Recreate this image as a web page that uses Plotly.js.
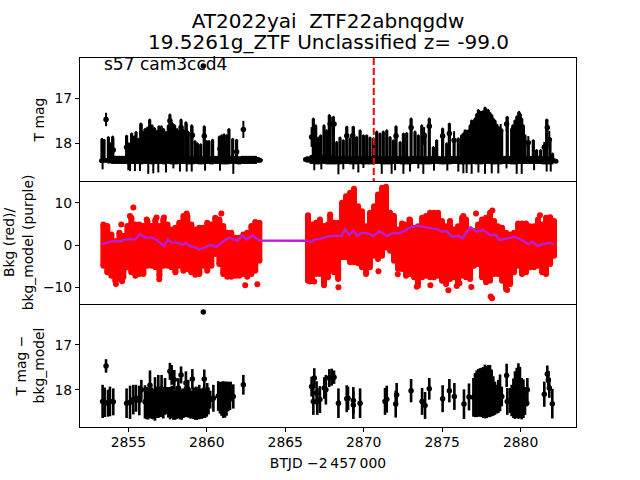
<!DOCTYPE html>
<html><head><meta charset="utf-8">
<script src="https://cdn.plot.ly/plotly-3.0.1.min.js"></script>
<style>html,body{margin:0;padding:0;background:#fff}</style></head>
<body><div id="chart" style="width:640px;height:480px"></div>
<script>
const titleLine1 = "AT2022yai\u00a0 ZTF22abnqgdw";
const titleLine2 = "19.5261g_ZTF Unclassified z= -99.0";
const sectorLabel = "s57 cam3ccd4";
const xLabel = "BTJD \u22122\u2009457\u2009000";
const triggerTime = 2870.64;

// Top panel: dense baseline of T mag points
const bandX = [2853.3,2853.55,2853.8,2854.05,2854.3,2854.55,2854.8,2855.05,2855.3,2855.55,2855.8,2856.05,2856.3,2856.55,2856.8,2857.05,2857.3,2857.55,2857.8,2858.05,2858.3,2858.55,2858.8,2859.05,2859.3,2859.55,2859.8,2860.05,2860.3,2860.55,2860.8,2861.05,2861.3,2861.55,2861.8,2862.05,2862.3,2862.55,2862.8,2863.05,2863.25,2863.4,
 2866.3,2866.45,2866.7,2866.95,2867.2,2867.45,2867.7,2867.95,2868.2,2868.45,2868.7,2868.95,2869.2,2869.45,2869.7,2869.95,2870.2,2870.45,2870.7,2870.95,2871.2,2871.45,2871.7,2871.95,2872.2,2872.45,2872.7,2872.95,2873.2,2873.45,2873.7,2873.95,2874.2,2874.45,2874.7,2874.95,2875.2,2875.45,2875.7,2875.95,2876.2,2876.45,2876.7,2876.95,2877.2,2877.45,2877.7,2877.95,2878.2,2878.45,2878.7,2878.95,2879.2,2879.45,2879.7,2879.95,2880.2,2880.45,2880.7,2880.95,2881.2,2881.45,2881.7,2881.95,2882.1,2882.25];
const bandY = [18.39,18.38,18.38,18.37,18.37,18.37,18.37,18.38,18.37,18.37,18.38,18.37,18.37,18.38,18.37,18.37,18.38,18.37,18.38,18.38,18.37,18.37,18.38,18.38,18.37,18.38,18.38,18.37,18.38,18.37,18.37,18.38,18.38,18.37,18.37,18.38,18.37,18.37,18.37,18.37,18.37,18.38,
 18.36,18.36,18.36,18.37,18.37,18.36,18.37,18.37,18.38,18.38,18.37,18.37,18.38,18.38,18.37,18.38,18.38,18.38,18.37,18.37,18.38,18.38,18.38,18.37,18.37,18.38,18.38,18.38,18.37,18.37,18.38,18.38,18.38,18.37,18.37,18.38,18.38,18.38,18.37,18.37,18.38,18.38,18.38,18.37,18.38,18.38,18.37,18.37,18.38,18.38,18.38,18.37,18.37,18.38,18.38,18.37,18.37,18.37,18.37,18.37,18.37,18.38,18.38,18.38,18.39,18.40];
const bandErr = [0.03,0.05,0.07,0.09,0.09,0.09,0.09,0.09,0.09,0.09,0.09,0.09,0.09,0.09,0.09,0.09,0.09,0.09,0.09,0.09,0.09,0.09,0.09,0.09,0.09,0.09,0.09,0.09,0.09,0.09,0.09,0.09,0.09,0.09,0.09,0.09,0.09,0.09,0.09,0.09,0.06,0.03,
 0.04,0.07,0.1,0.1,0.1,0.1,0.1,0.1,0.09,0.09,0.09,0.09,0.09,0.09,0.09,0.09,0.09,0.09,0.09,0.09,0.09,0.09,0.09,0.09,0.09,0.09,0.09,0.09,0.09,0.09,0.09,0.09,0.09,0.09,0.09,0.09,0.09,0.09,0.09,0.09,0.09,0.09,0.09,0.09,0.09,0.09,0.09,0.09,0.09,0.09,0.09,0.09,0.09,0.09,0.09,0.09,0.09,0.09,0.09,0.09,0.09,0.09,0.09,0.09,0.05,0.02];

// Top panel: upper ends of the error-bar columns, reaching down to the baseline
const riseX = [2853.32,2853.45,2853.73,2853.87,2854.0,2854.89,2855.04,2855.21,2855.36,2855.49,2855.64,2855.79,2855.91,2856.06,2856.21,2856.36,2856.51,2856.66,2856.81,2856.95,2857.1,2857.25,2857.4,2857.55,2857.65,2857.8,2857.95,2858.1,2858.25,2858.36,2858.5,2858.67,2858.82,2859.04,2859.25,2859.4,2859.61,2859.84,2860.0,2860.14,2860.37,2860.8,2860.95,2861.1,2861.27,2861.41,2861.65,2861.9,
 2866.79,2866.94,2867.11,2867.26,2867.47,2867.64,2867.81,
 2867.86,2868.07,2868.28,2868.49,2868.7,2868.92,2869.13,2869.34,2869.55,2869.77,2869.98,2870.19,2870.4,2870.62,2870.83,2871.04,2871.25,2871.47,2871.68,2871.89,2872.06,2872.32,2872.53,2872.74,2873.02,2873.27,2873.48,2873.7,2873.91,2874.18,2874.44,2874.65,2875.03,2875.29,2875.46,2875.76,2876.03,2876.24,2876.35,2876.46,2876.56,2876.67,2876.78,2876.88,2876.99,2877.09,2877.2,2877.31,2877.42,2877.52,2877.62,2877.73,2877.84,2877.94,2878.05,2878.16,2878.26,2878.37,2878.48,2878.58,2878.68,2878.79,2879.15,2879.43,2879.5,2879.64,2879.76,2879.9,2879.98,2880.07,2880.18,2880.28,2880.49,2880.81,2881.02,2881.28,2881.51,2881.66,2881.87,2882.04];
const riseMag = [17.9,17.92,17.86,18.0,17.85,17.83,18.0,17.78,17.85,17.75,17.9,17.56,17.75,17.68,17.65,17.47,17.6,17.66,17.72,17.62,17.62,17.68,17.75,17.6,17.36,17.55,17.6,17.68,17.72,17.47,17.7,17.53,17.75,17.6,17.95,18.0,18.02,17.62,17.95,17.95,17.92,17.85,17.82,17.8,17.82,17.68,17.9,17.92,
 17.45,17.6,17.87,17.82,17.6,17.71,17.37,
 17.41,17.41,17.97,17.87,17.93,17.63,17.89,17.63,17.86,17.71,17.82,17.82,17.87,17.89,17.74,17.78,17.74,17.71,17.86,17.93,17.62,17.97,17.78,17.77,17.45,17.74,17.82,17.6,17.78,17.45,18.08,17.93,17.67,18.0,17.56,17.89,17.89,17.82,17.78,17.71,17.72,17.71,17.6,17.49,17.5,17.45,17.35,17.26,17.3,17.3,17.28,17.2,17.25,17.26,17.32,17.37,17.45,17.49,17.58,17.63,17.7,17.71,17.41,17.67,17.6,17.49,17.4,17.3,17.35,17.45,17.6,17.82,17.97,17.93,18.15,18.15,18.04,17.47,17.89,18.23];
const riseBase = 18.37;

// Top panel: lower ends of the error bars that poke below the baseline
const dropX = [2853.36,2855.0,2855.11,2855.42,2855.74,2856.27,2856.59,2856.91,2857.4,2857.87,2858.29,2858.72,2859.04,2859.89,2860.84,2861.69,
 2866.85,2867.3,2868.39,2868.7,2869.34,2869.66,2869.98,2871.15,2871.78,2872.0,2872.53,2872.95,2873.48,2873.8,2874.48,2875.33,2876.03,2876.35,2876.56,2876.88,2877.31,2877.73,2878.16,2878.58,2879.1,2879.75,2880.07,2880.86,2881.66,2881.92];
const dropMag = [18.58,18.6,18.62,18.62,18.62,18.68,18.67,18.65,18.65,18.56,18.63,18.63,18.63,18.61,18.61,18.68,
 18.6,18.58,18.69,18.58,18.58,18.65,18.55,18.68,18.68,18.6,18.68,18.63,18.56,18.68,18.61,18.61,18.63,18.67,18.66,18.68,18.65,18.68,18.67,18.67,18.56,18.68,18.68,18.6,18.63,18.63];

// Top panel: individually visible points
const topDotX = [2853.58,2854.04,2854.89,2855.85,2857.65,2857.91,2858.36,2858.72,2859.08,2859.84,2859.78,2860.84,2861.9,2862.33,2866.68,2867.86,2868.11,2868.92,2869.3,2872.06,2873.02,2873.85,2874.18,2875.03,2875.46,2875.76,2877.73,2878.73,2879.11,2879.86,2880.49,2881.51,2881.7,2881.83];
const topDotMag = [17.47,18.15,18.09,17.78,17.5,17.72,17.65,17.77,17.82,17.84,16.28,18.12,18.19,17.69,17.86,17.57,17.57,17.83,17.83,17.84,17.65,17.84,17.62,17.84,17.78,17.93,17.37,17.72,17.57,17.45,17.99,18.09,17.65,17.92];
const topDotErr = [0.15,0.26,0.26,0.22,0.14,0.15,0.18,0.2,0.2,0.2,0,0.25,0.2,0.19,0.22,0.16,0.15,0.2,0.2,0.22,0.2,0.2,0.17,0.17,0.22,0.2,0.17,0.15,0.16,0.15,0.15,0.12,0.18,0.2];

// Middle panel: extent of the red background values
const bkgX = [2853.41,2853.66,2853.92,2854.17,2854.43,2854.68,2854.94,2855.19,2855.45,2855.7,2855.96,2856.21,2856.47,2856.72,2856.98,2857.23,2857.49,2857.74,2858.0,2858.25,2858.51,2858.76,2859.01,2859.27,2859.52,2859.78,2860.03,2860.29,2860.54,2860.8,2861.05,2861.31,2861.56,2861.82,2862.07,2862.33,2862.58,2862.84,2863.09,2863.35,
 2866.45,2866.7,2866.96,2867.21,2867.47,2867.72,
 2867.86,2868.11,2868.37,2868.62,2868.87,2869.13,2869.38,2869.64,2869.89,2870.15,2870.4,2870.66,2870.91,2871.17,2871.42,2871.68,2871.93,2872.19,2872.44,2872.7,2872.95,2873.21,2873.46,2873.72,2873.97,2874.23,2874.48,2874.74,2874.99,2875.25,2875.5,2875.76,2876.01,2876.27,2876.52,2876.78,2877.03,2877.29,2877.54,2877.8,2878.05,2878.31,2878.56,2878.82,2879.07,2879.33,2879.58,2879.84,2880.09,2880.35,2880.6,2880.86,2881.11,2881.37,2881.62,2881.88,2882.13];
const bkgHigh = [4.86,4.47,2.51,0.94,2.9,2.11,4.47,6.43,4.86,4.86,4.47,5.64,4.47,5.88,4.47,6.04,4.86,3.68,4.07,5.25,6.82,6.82,4.86,3.68,4.07,4.07,5.25,4.86,6.43,6.04,4.47,2.9,2.9,1.72,1.72,2.51,2.9,4.47,5.41,5.25,
 7.05,4.86,5.25,6.04,4.47,4.86,
 7.21,5.25,5.25,9.95,11.52,12.31,13.25,9.17,7.99,4.46,7.6,9.17,11.91,13.48,13.72,7.6,6.82,3.68,5.09,4.86,5.88,4.07,4.46,6.42,6.82,7.6,7.6,7.6,5.64,4.46,5.64,3.68,4.46,6.42,6.03,3.68,3.29,4.86,6.03,6.42,7.6,5.64,4.46,4.07,2.9,2.5,2.9,5.09,5.09,5.09,4.46,4.46,6.03,4.86,6.42,6.58,5.64];
const bkgLow = [-4.87,-6.44,-7.22,-8.4,-8.0,-7.61,-5.26,-6.44,-7.22,-6.83,-6.83,-4.87,-4.87,-5.26,-7.22,-4.87,-4.87,-5.26,-6.44,-4.87,-6.04,-5.65,-6.44,-6.99,-6.83,-4.87,-6.04,-4.87,-2.12,-4.47,-6.83,-7.45,-7.45,-7.22,-7.22,-6.83,-7.45,-6.83,-6.04,-3.69,
 -8.4,-8.4,-6.83,-6.83,-9.18,-7.6,
 -5.65,-6.43,-8.0,-2.9,-2.9,-4.08,-4.08,-4.31,-5.26,-6.83,-5.26,-2.51,-3.3,-2.51,-0.55,-1.34,-3.69,-5.65,-5.65,-7.22,-6.83,-7.61,-9.57,-7.61,-7.22,-7.61,-7.61,-7.22,-8.4,-9.18,-8.0,-7.61,-8.79,-7.22,-7.61,-8.0,-4.86,-4.47,-7.61,-8.79,-8.4,-6.83,-6.83,-8.4,-10.35,-9.18,-6.43,-4.86,-6.83,-6.43,-5.26,-5.26,-4.86,-6.43,-6.83,-4.47,-2.51];
// Middle panel: red points outside the main mass
const bkgOutX = [2855.32,2855.1,2854.55,2858.72,2860.93,2856.97,2854.21,2854.6,2862.45,2863.22,2856.17,2856.8,2857.27,2866.6,2866.85,2867.47,2868.39,2870.94,2872.17,2874.25,2875.4,2875.93,2876.1,2876.86,2878.09,2878.18,2879.15,2873.38,2872.91,2877.16,2878.2,2876.35,2881.23];
const bkgOutY = [8.86,6.82,4.86,7.45,7.45,-8.08,-9.18,-8.55,-9.5,-9.26,6.04,6.5,6.5,-8.6,-8.6,-9.5,-9.96,-6.2,-6.9,-9.49,-10.67,-9.65,-9.02,-9.89,-12.16,-12.55,-10.59,-9.81,6.04,7.45,8.15,6.82,7.05];

// Middle panel: purple background model
const modelX = [2853.3,2853.51,2853.73,2854.04,2854.47,2854.79,2855.11,2855.42,2855.74,2856.06,2856.49,2856.81,2857.02,2857.27,2857.51,2857.76,2858.19,2858.46,2858.67,2858.93,2859.25,2859.52,2859.89,2860.25,2860.59,2860.95,2861.16,2861.41,2861.69,2861.95,2862.26,2862.54,2862.92,2863.18,2863.39,2866.36,2866.62,2866.89,2867.21,2867.53,2867.85,2868.6,2868.81,2869.09,2869.34,2869.6,2869.87,2870.3,2870.62,2871.0,2871.47,2871.89,2872.21,2872.63,2872.95,2873.42,2874.02,2874.65,2874.97,2875.29,2875.61,2876.03,2876.31,2876.56,2876.82,2877.2,2877.63,2878.05,2878.41,2878.65,2879.11,2879.64,2880.07,2880.49,2880.77,2881.07,2881.45,2881.87,2882.13];
const modelY = [0.23,0.39,0.7,0.94,0.86,1.33,1.41,1.33,2.58,1.8,1.8,1.17,0.54,-0.24,1.33,0.62,0.54,0.07,0.54,-0.24,-0.55,-1.02,-0.55,0.07,-0.4,0.54,0.94,1.8,1.33,1.02,2.27,1.33,2.27,1.49,1.09,1.02,0.7,1.33,1.41,1.8,2.11,2.11,3.76,2.35,3.37,2.11,2.9,2.74,2.11,3.29,2.11,2.9,2.74,3.37,4.15,4.54,4.15,3.76,3.13,3.29,1.96,2.11,1.56,3.13,4.15,3.13,3.53,2.35,2.35,1.17,1.56,1.96,1.17,0.23,0.78,-0.24,0.23,0.54,0.23];

// Bottom panel: T mag minus background model
const diffX = [2853.36,2853.49,2853.58,2853.7,2853.83,2854.04,2854.89,2855.11,2855.32,2855.49,2855.7,2855.83,
 2856.06,2856.17,2856.27,2856.38,2856.49,2856.59,2856.7,2856.81,2856.91,2857.02,2857.13,2857.23,2857.34,2857.45,2857.55,2857.66,2857.77,2857.87,2857.98,2858.08,2858.19,2858.3,2858.4,2858.51,2858.62,2858.72,2858.83,2858.94,2859.04,2859.15,2859.26,2859.36,2859.47,2859.58,2859.68,2859.79,2859.9,2860.0,2860.11,2860.22,
 2856.38,2856.7,2856.91,2857.12,2857.34,2857.65,2857.76,2857.93,2858.19,2858.36,2858.67,2858.82,2859.08,2859.31,2859.52,2859.84,2860.03,
 2860.42,2860.73,2860.84,2860.94,2861.05,2861.16,2861.26,2861.37,2861.48,2861.52,2861.69,2862.33,2859.78,
 2866.68,2866.79,2866.85,2867.0,2867.04,2867.21,2867.49,2867.59,2867.81,2867.96,2868.11,2868.39,2868.92,2869.0,2869.34,2869.34,2869.77,2871.36,2871.47,2872.04,2872.1,2873.02,2873.72,2873.91,2874.18,2875.03,2875.46,2875.78,2876.39,2876.71,
 2876.99,2877.09,2877.2,2877.3,2877.41,2877.52,2877.62,2877.73,2877.84,2877.94,2878.05,2878.16,2878.26,2878.37,2878.48,2878.58,2878.69,2878.8,2879.11,2879.15,
 2879.32,2879.43,2879.54,2879.64,2879.75,2879.86,2879.96,2880.07,2880.18,2880.28,2880.39,2880.43,2881.51,2881.7,2881.77,2881.83,2882.02];
const diffMag = [18.26,18.28,17.47,18.3,18.26,18.27,18.3,18.28,18.22,18.19,18.24,18.0,
 18.27,18.3,18.31,18.26,18.3,18.32,18.33,18.28,18.3,18.27,18.25,18.29,18.26,18.24,18.28,18.3,18.27,18.33,18.34,18.3,18.28,18.31,18.33,18.3,18.27,18.26,18.28,18.31,18.33,18.3,18.32,18.33,18.3,18.32,18.31,18.29,18.3,18.27,18.25,18.22,
 17.9,18.05,18.0,18.0,18.07,17.59,17.67,17.78,17.96,17.67,17.85,18.0,17.76,18.15,18.11,17.76,18.07,
 18.19,18.14,18.18,18.2,18.22,18.22,18.2,18.15,18.15,18.04,18.15,17.89,16.27,
 17.93,18.26,17.74,18.07,18.26,18.22,17.96,18.0,17.74,17.72,17.72,18.3,18.2,18.19,18.24,18.34,18.3,18.26,18.21,18.32,18.11,18.02,18.26,18.35,17.98,18.2,18.02,18.15,18.32,18.16,
 18.17,18.12,18.09,18.07,18.06,18.06,18.06,18.04,18.05,18.03,18.03,18.07,18.14,18.19,18.21,18.15,18.07,18.15,17.68,18.26,
 18.24,18.24,18.19,18.12,18.07,18.03,18.06,18.2,18.2,18.25,18.3,18.0,18.1,17.65,17.78,17.96,18.31];
const diffErr = [0.37,0.33,0.15,0.3,0.33,0.3,0.33,0.37,0.33,0.3,0.33,0.22,
 0.37,0.36,0.35,0.37,0.35,0.34,0.36,0.35,0.33,0.34,0.36,0.35,0.3,0.3,0.34,0.36,0.36,0.34,0.33,0.35,0.36,0.35,0.34,0.33,0.34,0.35,0.34,0.33,0.31,0.35,0.35,0.34,0.36,0.33,0.34,0.34,0.33,0.33,0.3,0.2,
 0.33,0.33,0.33,0.33,0.33,0.19,0.22,0.22,0.22,0.19,0.26,0.22,0.22,0.22,0.22,0.21,0.22,
 0.3,0.33,0.35,0.38,0.41,0.4,0.38,0.33,0.3,0.22,0.27,0.22,0,
 0.22,0.3,0.22,0.26,0.3,0.3,0.24,0.33,0.2,0.19,0.15,0.33,0.3,0.26,0.3,0.31,0.33,0.3,0.3,0.3,0.26,0.26,0.3,0.3,0.24,0.3,0.26,0.3,0.33,0.3,
 0.43,0.49,0.52,0.53,0.54,0.55,0.57,0.6,0.58,0.58,0.58,0.52,0.44,0.37,0.32,0.37,0.41,0.22,0.26,0.3,
 0.28,0.35,0.44,0.53,0.56,0.62,0.57,0.46,0.43,0.31,0.07,0.26,0.28,0.19,0.2,0.22,0.33];

const black = "#000000", red = "#ff0000", purple = "#bb1dd0";
const minus = (a, b) => a.map(v => v - b);

const traces = [
  // top panel
  {x: bandX, y: bandY, xaxis:"x3", yaxis:"y3", mode:"markers", marker:{color:black,size:5},
   error_y:{type:"data",array:bandErr,color:black,thickness:4.5,width:0}},
  {x: riseX, y: riseMag, xaxis:"x3", yaxis:"y3", mode:"markers", marker:{color:black,size:2},
   error_y:{type:"data",symmetric:false,array:riseMag.map(v=>riseBase-v),arrayminus:riseMag.map(()=>0),color:black,thickness:3.2,width:0}},
  {x: dropX, y: dropX.map(()=>riseBase), xaxis:"x3", yaxis:"y3", mode:"markers", marker:{color:black,size:2},
   error_y:{type:"data",symmetric:false,array:minus(dropMag,riseBase),arrayminus:dropX.map(()=>0),color:black,thickness:2,width:0}},
  {x: topDotX, y: topDotMag, xaxis:"x3", yaxis:"y3", mode:"markers", marker:{color:black,size:5.5},
   error_y:{type:"data",array:topDotErr,color:black,thickness:2,width:0}},
  {x: [triggerTime,triggerTime], y:[16.1,18.84], xaxis:"x3", yaxis:"y3", mode:"lines",
   line:{color:red,width:2,dash:"7px,3px"}},
  // middle panel
  {x: bkgX, y: bkgHigh, xaxis:"x2", yaxis:"y2", mode:"markers", marker:{color:red,size:6},
   error_y:{type:"data",symmetric:false,array:bkgHigh.map(()=>0),arrayminus:bkgHigh.map((v,i)=>v-bkgLow[i]),color:red,thickness:6,width:0}},
  {x: bkgX, y: bkgLow, xaxis:"x2", yaxis:"y2", mode:"markers", marker:{color:red,size:6}},
  {x: bkgOutX, y: bkgOutY, xaxis:"x2", yaxis:"y2", mode:"markers", marker:{color:red,size:6}},
  {x: modelX, y: modelY, xaxis:"x2", yaxis:"y2", mode:"lines", line:{color:purple,width:2.5}},
  // bottom panel
  {x: diffX, y: diffMag, xaxis:"x", yaxis:"y", mode:"markers", marker:{color:black,size:5.5},
   error_y:{type:"data",array:diffErr,color:black,thickness:2.6,width:0}}
];

const xRange = [2851.92,2883.53];
const font = {family:"DejaVu Sans",size:13.9,color:"#000"};
const titleFont = {family:"DejaVu Sans",size:20,color:"#000"};
const xBase = {range:xRange,showgrid:false,zeroline:false,showline:true,mirror:false,linecolor:"#000",linewidth:1,
  ticks:"",showticklabels:false,tickfont:font};
const yBase = {showgrid:false,zeroline:false,showline:true,mirror:true,linecolor:"#000",linewidth:1,
  ticks:"outside",ticklen:4,tickwidth:1,tickcolor:"#000",tickfont:font,tickmode:"array"};

const layout = {
  width:640,height:480,showlegend:false,paper_bgcolor:"#fff",plot_bgcolor:"#fff",
  margin:{l:80,r:64,t:57.6,b:52.8,pad:0},
  title:{text:titleLine1,x:0.5125,xanchor:"center",y:0.956,yanchor:"middle",font:titleFont},
  xaxis:Object.assign({},xBase,{anchor:"y",domain:[0,1],ticks:"outside",ticklen:4,tickwidth:1,tickcolor:"#000",
    showticklabels:true,tickmode:"array",tickvals:[2855,2860,2865,2870,2875,2880],ticklabelstandoff:-2,
    ticktext:["2855","2860","2865","2870","2875","2880"],
    title:{text:xLabel,font:font,standoff:9}}),
  xaxis2:Object.assign({},xBase,{anchor:"y2",matches:"x"}),
  xaxis3:Object.assign({},xBase,{anchor:"y3",matches:"x",mirror:true}),
  yaxis:Object.assign({},yBase,{domain:[0,1/3],anchor:"x",range:[18.83,16.09],tickvals:[17,18],ticktext:["17","18"],
    title:{text:"T mag \u2212<br>bkg_model",font:font,standoff:6}}),
  yaxis2:Object.assign({},yBase,{domain:[1/3,2/3],anchor:"x2",range:[-13.9,15.1],tickvals:[-10,0,10],ticktext:["\u221210","0","10"],
    title:{text:"Bkg (red)/<br>bkg_model (purple)",font:font,standoff:6}}),
  yaxis3:Object.assign({},yBase,{domain:[2/3,1],anchor:"x3",range:[18.84,16.1],tickvals:[17,18],ticktext:["17","18"],
    title:{text:"T mag",font:font,standoff:6}}),
  annotations:[
    {text:sectorLabel,xref:"x3",yref:"y3",x:2853.38,y:16.24,xanchor:"left",yanchor:"middle",showarrow:false,
     font:{family:"DejaVu Sans",size:17,color:"#000"},borderpad:0},
    {text:titleLine2,xref:"paper",yref:"paper",x:0.5,y:1.0422,xanchor:"center",yanchor:"middle",showarrow:false,
     font:titleFont,borderpad:0}
  ]
};
Plotly.newPlot("chart",traces,layout,{displayModeBar:false,staticPlot:true});
</script></body></html>
